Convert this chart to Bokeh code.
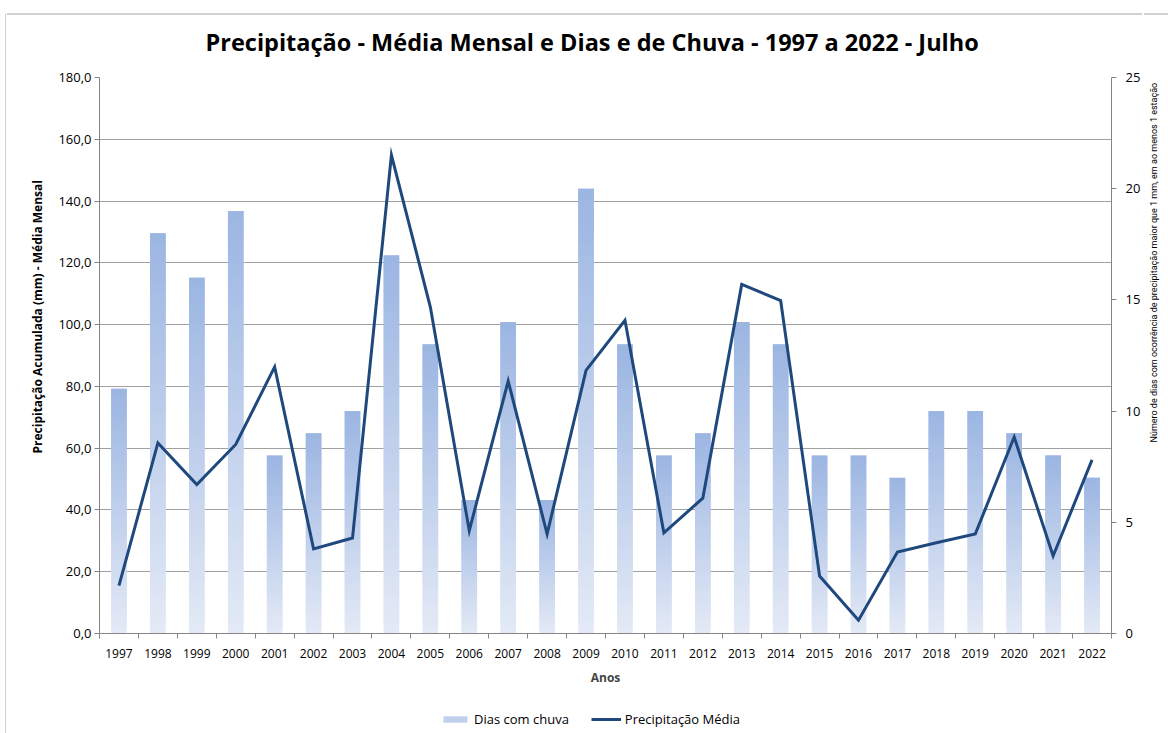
import math
from bokeh.plotting import figure
from bokeh.layouts import row, column
from bokeh.models import (Range1d, LinearAxis, FixedTicker, ColumnDataSource, Legend,
                          LegendItem, Title, BoxAnnotation)
from bokeh.core.properties import value
from bokeh.embed import file_html
from bokeh.resources import INLINE

# ---------------- data ----------------
years = ["1997", "1998", "1999", "2000", "2001", "2002", "2003", "2004", "2005", "2006",
         "2007", "2008", "2009", "2010", "2011", "2012", "2013", "2014", "2015", "2016",
         "2017", "2018", "2019", "2020", "2021", "2022"]
rain_days = [11, 18, 16, 19, 8, 9, 10, 17, 13, 6, 14, 6, 20, 13, 8, 9, 14, 13, 8, 8,
             7, 10, 10, 9, 8, 7]
precip_mm = [15.5, 61.7, 48.2, 61.2, 86.3, 27.4, 30.9, 154.9, 105.7, 33.3, 81.7, 32.2,
             85.2, 101.4, 32.6, 43.8, 113.0, 107.8, 18.6, 4.3, 26.4, 29.4, 32.2, 63.6,
             25.1, 56.2]
left_ticks = [0, 20, 40, 60, 80, 100, 120, 140, 160, 180]
right_ticks = [0, 5, 10, 15, 20, 25]

TITLE = "Precipitação - Média Mensal e Dias e de Chuva - 1997 a 2022 - Julho"
LEFT_LABEL = "Precipitação Acumulada (mm) - Média Mensal"
RIGHT_LABEL = "Número de dias com ocorrência de precipitação maior que 1 mm, em ao menos 1 estação"
SERIES_BARS = "Dias com chuva"
SERIES_LINE = "Precipitação Média"

FONT = "Open Sans"
TOP_COL = (155, 181, 226)
BOT_COL = (228, 234, 246)
LINE_COL = "#1F497D"
AXIS_COL = "#868686"
GRID_COL = "#A0A0A0"
BORDER_COL = "#A6A6A6"

n = len(years)
xc = [i + 0.5 for i in range(n)]

# gradient bars built from overlapping slices of each bar's own height
NS = 40
bl, br, bb, bt, bc = [], [], [], [], []
for i, d in enumerate(rain_days):
    for k in range(NS):
        f = (k + 0.5) / NS
        r = round(BOT_COL[0] + (TOP_COL[0] - BOT_COL[0]) * f)
        g = round(BOT_COL[1] + (TOP_COL[1] - BOT_COL[1]) * f)
        b = round(BOT_COL[2] + (TOP_COL[2] - BOT_COL[2]) * f)
        bl.append(xc[i] - 0.2)
        br.append(xc[i] + 0.2)
        bb.append(d * k / NS)
        bt.append(d * min(k + 2, NS) / NS)
        bc.append("#%02x%02x%02x" % (r, g, b))
bar_data = dict(left=bl, right=br, bottom=bb, top=bt, color=bc)
line_data = dict(x=xc, y=precip_mm)
bar_src = ColumnDataSource(bar_data)
line_src = ColumnDataSource(line_data)

p = figure(frame_width=1012, frame_height=556, x_range=Range1d(0, n), y_range=Range1d(0, 180),
           output_backend="svg", toolbar_location=None,
           min_border_left=93, min_border_right=31, min_border_top=17, min_border_bottom=75,
           background_fill_color="white", border_fill_color="white")
p.outline_line_color = None
p.extra_y_ranges = {"days": Range1d(0, 25)}

bars = p.quad(left="left", right="right", bottom="bottom", top="top", fill_color="color",
              line_color=None, source=bar_src, y_range_name="days")
line = p.line("x", "y", source=line_src, line_width=3, line_color=LINE_COL,
              line_join="miter")

# x axis
xa = p.xaxis[0]
xa.ticker = FixedTicker(ticks=xc, minor_ticks=list(range(n + 1)))
xa.major_label_overrides = {x: y for x, y in zip(xc, years)}
xa.major_tick_out = 0
xa.major_tick_in = 0
xa.minor_tick_out = 5
xa.minor_tick_in = 0
xa.minor_tick_line_color = AXIS_COL
xa.axis_line_color = AXIS_COL
xa.major_label_standoff = 10
xa.major_label_text_font = FONT
xa.major_label_text_font_size = "12px"
xa.major_label_text_color = "black"
xa.axis_label = "Anos"
xa.axis_label_text_font = FONT
xa.axis_label_text_font_size = "12px"
xa.axis_label_text_font_style = "bold"
xa.axis_label_standoff = 8

# left axis
ya = p.yaxis[0]
ya.ticker = FixedTicker(ticks=left_ticks)
ya.major_label_overrides = {t: ("%.1f" % t).replace(".", ",") for t in left_ticks}
ya.major_tick_out = 5
ya.major_tick_in = 0
ya.minor_tick_out = 0
ya.minor_tick_in = 0
ya.axis_line_color = AXIS_COL
ya.major_tick_line_color = AXIS_COL
ya.major_label_standoff = 3
ya.major_label_text_font = FONT
ya.major_label_text_font_size = "13px"
ya.major_label_text_color = "black"

# right axis
ra = LinearAxis(y_range_name="days", ticker=FixedTicker(ticks=right_ticks))
ra.major_tick_out = 5
ra.major_tick_in = 0
ra.minor_tick_out = 0
ra.minor_tick_in = 0
ra.axis_line_color = AXIS_COL
ra.major_tick_line_color = AXIS_COL
ra.major_label_standoff = 9
ra.major_label_text_font = FONT
ra.major_label_text_font_size = "13px"
ra.major_label_text_color = "black"
p.add_layout(ra, "right")

p.xgrid.grid_line_color = None
p.ygrid.grid_line_color = GRID_COL
p.ygrid.grid_line_width = 1

# left axis title
p.add_layout(Title(text=LEFT_LABEL, align="left", offset=180,
                   text_font=FONT, text_font_size="12px", text_font_style="bold",
                   text_color="black", standoff=19), "left")


def strip(w, h):
    f = figure(width=w, height=h, x_range=Range1d(0, w), y_range=Range1d(0, h),
               output_backend="svg", toolbar_location=None, min_border=0,
               background_fill_color="white", border_fill_color="white")
    f.axis.visible = False
    f.grid.visible = False
    f.outline_line_color = None
    return f


# top strip: chart title and top edge of the chart border
ts = strip(1136, 60)
ts.add_layout(BoxAnnotation(left=0, right=1136, bottom=46, top=47, fill_color=BORDER_COL,
                            fill_alpha=1, line_color=None))
ts.text(x=[199], y=[19], text=[TITLE], text_align="left", text_baseline="middle",
        text_font=value(FONT), text_font_size="23.5px", text_font_style="bold",
        text_color="black")

# legend strip below the chart: hidden proxies of the two series carry the legend glyphs
lg = strip(1136, 25)
lg_bar = lg.quad(left="left", right="right", bottom="bottom", top="top", fill_color="color",
                 line_color=None, source=ColumnDataSource(bar_data), visible=False)
lg_line = lg.line("x", "y", source=ColumnDataSource(line_data), line_width=3,
                  line_color=LINE_COL, visible=False)
legend = Legend(items=[LegendItem(label=SERIES_BARS, renderers=[lg_bar], index=NS // 2),
                       LegendItem(label=SERIES_LINE, renderers=[lg_line])],
                orientation="horizontal", location=(434, 5), border_line_color=None,
                background_fill_alpha=0, glyph_width=30, glyph_height=8, label_height=14,
                label_standoff=4, spacing=22, padding=2, margin=0,
                inactive_fill_alpha=0,
                label_text_font=FONT, label_text_font_size="13px", label_text_color="black")
lg.add_layout(legend)

# right strip with the right-axis title
rs = strip(26, 733)
rs.add_layout(BoxAnnotation(left=0, right=26, bottom=719, top=720, fill_color=BORDER_COL,
                            fill_alpha=1, line_color=None))
rs.text(x=[10], y=[291], text=[RIGHT_LABEL], angle=math.pi / 2, text_align="left",
        text_baseline="middle", text_font=value("Roboto"), text_font_size="9px",
        text_color="black")

# left edge of the chart border
ls = strip(6, 733)
ls.add_layout(BoxAnnotation(left=5, right=6, bottom=0, top=720, fill_color=BORDER_COL,
                            fill_alpha=1, line_color=None))

layout = row(ls, column(ts, row(p, spacing=0), lg, spacing=0), rs, spacing=0)

open("out.html", "w").write(file_html(layout, INLINE))
